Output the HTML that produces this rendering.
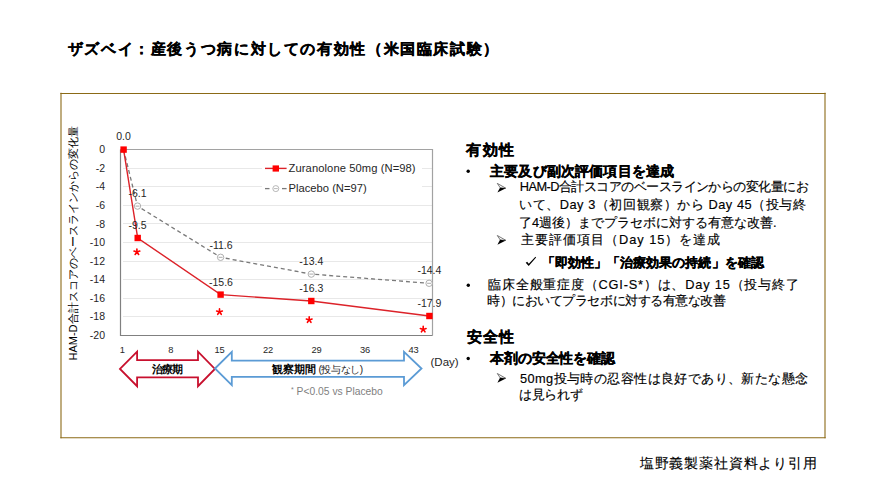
<!DOCTYPE html>
<html><head><meta charset="utf-8">
<style>
html,body{margin:0;padding:0;background:#fff;}
body{width:886px;height:498px;position:relative;overflow:hidden;font-family:"Liberation Sans",sans-serif;color:#000;}
.a{position:absolute;white-space:nowrap;line-height:1;-webkit-text-stroke:0.15px #000;}
.b{font-weight:bold;-webkit-text-stroke:0.3px #000;}
svg{position:absolute;left:0;top:0;}
</style></head>
<body>
<svg width="886" height="498" viewBox="0 0 886 498" font-family="Liberation Sans, sans-serif">
  <g stroke="#8b6a16" stroke-width="1.1" fill="none">
    <line x1="60.35" y1="93.5" x2="825.65" y2="93.5"/>
    <line x1="825" y1="92.85" x2="825" y2="438.35"/>
    <line x1="825.65" y1="437.7" x2="60.35" y2="437.7"/>
    <line x1="61" y1="438.35" x2="61" y2="92.85"/>
  </g>
  <!-- gridlines -->
  <g stroke="#e8e8e8" stroke-width="1">
    <line x1="123" y1="168.5" x2="433" y2="168.5"/>
    <line x1="123" y1="186.5" x2="433" y2="186.5"/>
    <line x1="123" y1="205.5" x2="433" y2="205.5"/>
    <line x1="123" y1="223.5" x2="433" y2="223.5"/>
    <line x1="123" y1="242.5" x2="433" y2="242.5"/>
    <line x1="123" y1="261.5" x2="433" y2="261.5"/>
    <line x1="123" y1="279.5" x2="433" y2="279.5"/>
    <line x1="123" y1="298.5" x2="433" y2="298.5"/>
    <line x1="123" y1="316.5" x2="433" y2="316.5"/>
  </g>
  <!-- legend bg -->
  <rect x="262" y="158" width="160" height="39" fill="#fff"/>
  <!-- plot border -->
  <path d="M120.5 149.5 H432.5 V335.5" fill="none" stroke="#a2a2a2" stroke-width="1.2"/>
  <path d="M120.5 149.5 V335.5 H432.5" fill="none" stroke="#808080" stroke-width="1.2"/>
  <!-- y labels -->
  <g font-size="10.5" fill="#262626" text-anchor="end">
    <text x="105" y="153.3">0</text>
    <text x="105" y="171.9">-2</text>
    <text x="105" y="190.4">-4</text>
    <text x="105" y="209.0">-6</text>
    <text x="105" y="227.6">-8</text>
    <text x="105" y="246.2">-10</text>
    <text x="105" y="264.7">-12</text>
    <text x="105" y="283.3">-14</text>
    <text x="105" y="301.9">-16</text>
    <text x="105" y="320.4">-18</text>
    <text x="105" y="339.0">-20</text>
  </g>
  <!-- x labels -->
  <g font-size="9.3" fill="#262626" text-anchor="middle">
    <text x="122.3" y="352.6">1</text>
    <text x="170.8" y="352.6">8</text>
    <text x="219.6" y="352.6">15</text>
    <text x="268.1" y="352.6">22</text>
    <text x="316.6" y="352.6">29</text>
    <text x="365.1" y="352.6">36</text>
    <text x="413.6" y="352.6">43</text>
  </g>
  <!-- y title -->
  <text transform="translate(77.2,243.5) rotate(-90)" font-size="11" letter-spacing="0" fill="#000" text-anchor="middle">HAM-D合計スコアのベースラインからの変化量</text>
  <!-- placebo -->
  <polyline points="123.6,149.6 137.5,206.1 220.6,257.3 311.3,274.1 429.1,283.3" fill="none" stroke="#7a7a7a" stroke-width="1.3" stroke-dasharray="4,3"/>
  <g fill="#fff" stroke="#a6a6a6" stroke-width="0.9">
    <circle cx="137.5" cy="206.1" r="3.2"/>
    <circle cx="220.6" cy="257.3" r="3.2"/>
    <circle cx="311.3" cy="274.1" r="3.2"/>
    <circle cx="429.1" cy="283.3" r="3.2"/>
  </g>
  <g stroke="#a0a0a0" stroke-width="0.9">
    <line x1="135.5" y1="206.1" x2="139.5" y2="206.1"/>
    <line x1="218.6" y1="257.3" x2="222.6" y2="257.3"/>
    <line x1="309.3" y1="274.1" x2="313.3" y2="274.1"/>
    <line x1="427.1" y1="283.3" x2="431.1" y2="283.3"/>
  </g>
  <!-- zuranolone -->
  <polyline points="123.6,149.6 137.7,238 220.6,294.6 311.3,301 429.4,316" fill="none" stroke="#dc2229" stroke-width="1.4"/>
  <g fill="#f00">
    <rect x="120.4" y="146.4" width="6.4" height="6.4"/>
    <rect x="134.5" y="234.8" width="6.4" height="6.4"/>
    <rect x="217.4" y="291.4" width="6.4" height="6.4"/>
    <rect x="308.1" y="297.8" width="6.4" height="6.4"/>
    <rect x="426.2" y="312.8" width="6.4" height="6.4"/>
  </g>
  <!-- data labels -->
  <g font-size="10.5" fill="#262626" text-anchor="middle">
    <text x="123.6" y="140">0.0</text>
    <text x="137.5" y="196.6">-6.1</text>
    <text x="137.5" y="228.7">-9.5</text>
    <text x="221" y="248.5">-11.6</text>
    <text x="221" y="285.7">-15.6</text>
    <text x="311.3" y="265.1">-13.4</text>
    <text x="311.3" y="291.5">-16.3</text>
    <text x="429.4" y="274">-14.4</text>
    <text x="429.4" y="307">-17.9</text>
  </g>
  <!-- asterisks -->
  <path d="M136.90 252.00L136.90 249.00M136.90 252.00L139.75 251.07M136.90 252.00L138.66 254.43M136.90 252.00L135.14 254.43M136.90 252.00L134.05 251.07M219.50 311.90L219.50 308.90M219.50 311.90L222.35 310.97M219.50 311.90L221.26 314.33M219.50 311.90L217.74 314.33M219.50 311.90L216.65 310.97M309.20 319.90L309.20 316.90M309.20 319.90L312.05 318.97M309.20 319.90L310.96 322.33M309.20 319.90L307.44 322.33M309.20 319.90L306.35 318.97M423.20 329.40L423.20 326.40M423.20 329.40L426.05 328.47M423.20 329.40L424.96 331.83M423.20 329.40L421.44 331.83M423.20 329.40L420.35 328.47" stroke="#f00" stroke-width="1.6" stroke-linecap="round" fill="none"/>
  <!-- legend -->
  <line x1="265" y1="168.4" x2="286.6" y2="168.4" stroke="#dc2229" stroke-width="1.4"/>
  <rect x="272.6" y="165.4" width="6.4" height="6.2" fill="#f00"/>
  <text x="288.6" y="172" font-size="11.2" letter-spacing="0.08" fill="#262626">Zuranolone 50mg (N=98)</text>
  <line x1="265" y1="188.6" x2="269.5" y2="188.6" stroke="#7a7a7a" stroke-width="1.3"/>
  <line x1="282" y1="188.6" x2="286.6" y2="188.6" stroke="#7a7a7a" stroke-width="1.3"/>
  <circle cx="275.8" cy="188.6" r="3" fill="#fff" stroke="#b0b0b0" stroke-width="0.9"/>
  <line x1="273.8" y1="188.6" x2="277.8" y2="188.6" stroke="#b0b0b0" stroke-width="0.9"/>
  <text x="288.6" y="192.2" font-size="11.2" fill="#262626">Placebo (N=97)</text>
  <!-- arrows -->
  <polygon points="120,368.9 137.1,351.7 137.1,360.1 198,360.1 198,351.7 214.9,368.9 198,386.2 198,377.4 137.1,377.4 137.1,386.2" fill="#fff" stroke="#c8102e" stroke-width="1.8"/>
  <polygon points="215,368.5 231.8,351.9 231.8,360.7 404,360.7 404,351.9 421.5,368.5 404,385.1 404,376.8 231.8,376.8 231.8,385.1" fill="#fff" stroke="#5b9bd5" stroke-width="1.8"/>
  <text x="167.2" y="372.6" font-size="10.5" font-weight="bold" text-anchor="middle" letter-spacing="-0.55">治療期</text>
  <text x="272" y="372.7" font-size="10.5" font-weight="bold" letter-spacing="-0.1">観察期間</text>
  <text x="318.5" y="372.7" font-size="10.2" fill="#262626" letter-spacing="-0.45">(投与なし)</text>
  <text x="291" y="394.7" font-size="10.3" fill="#7f7f7f"><tspan font-size="7" dy="-3">*</tspan><tspan dy="3"> P&lt;0.05 vs Placebo</tspan></text>
  <text x="430.5" y="365.6" font-size="11.5" letter-spacing="0" fill="#262626">(Day)</text>
  <!-- bullets -->
  <g fill="#000">
    <circle cx="468.2" cy="171.3" r="1.7"/>
    <circle cx="468.3" cy="285.2" r="1.7"/>
    <circle cx="468.2" cy="358.5" r="1.7"/>
  </g>
    <path d="M497.3 183.4 L505.8 188.2 L500.3 187.9 Z" fill="none" stroke="#555" stroke-width="0.8" stroke-linejoin="round"/>
    <path d="M500.0 187.7 L505.9 188.3 L497.4 192.6 Z" fill="#000"/>
    <path d="M497.3 235.5 L505.8 240.3 L500.3 240.0 Z" fill="none" stroke="#555" stroke-width="0.8" stroke-linejoin="round"/>
    <path d="M500.0 239.8 L505.9 240.4 L497.4 244.7 Z" fill="#000"/>
    <path d="M497.3 373.5 L505.8 378.3 L500.3 378.0 Z" fill="none" stroke="#555" stroke-width="0.8" stroke-linejoin="round"/>
    <path d="M500.0 377.8 L505.9 378.4 L497.4 382.7 Z" fill="#000"/>
  <path d="M525.7 262.8 L527.2 261.7 L528.8 263.7 L535.4 256.8 L536.1 257.5 L528.7 266.1 Z" fill="#000"/>
</svg>

<div class="a b" style="left:67.80px;top:42.20px;font-size:14.8px;letter-spacing:1.616px;">ザズベイ：産後うつ病に対しての有効性（米国臨床試験）</div>
<div class="a b" style="left:466.20px;top:142.70px;font-size:14.8px;letter-spacing:1.450px;">有効性</div>
<div class="a b" style="left:490.00px;top:163.70px;font-size:14px;letter-spacing:0.167px;">主要及び副次評価項目を達成</div>
<div class="a" style="left:519.80px;top:181.40px;font-size:12.8px;letter-spacing:-0.546px;">HAM-D合計スコアのベースラインからの変化量にお</div>
<div class="a" style="left:519.00px;top:198.90px;font-size:12.8px;letter-spacing:0.553px;">いて、Day 3（初回観察）から Day 45（投与終</div>
<div class="a" style="left:519.00px;top:216.80px;font-size:12.8px;">了4週後）までプラセボに対する有意な改善.</div>
<div class="a" style="left:521.20px;top:233.80px;font-size:12.8px;letter-spacing:0.976px;">主要評価項目（Day 15）を達成</div>
<div class="a b" style="left:542.00px;top:255.55px;font-size:13.3px;letter-spacing:0.039px;">「即効性」「治療効果の持続」を確認</div>
<div class="a" style="left:488.20px;top:278.60px;font-size:12.8px;letter-spacing:0.799px;">臨床全般重症度（CGI-S*）は、Day 15（投与終了</div>
<div class="a" style="left:487.20px;top:295.30px;font-size:12.8px;letter-spacing:-0.466px;">時）においてプラセボに対する有意な改善</div>
<div class="a b" style="left:466.60px;top:330.10px;font-size:14.8px;letter-spacing:1.250px;">安全性</div>
<div class="a b" style="left:490.00px;top:351.20px;font-size:14px;letter-spacing:-0.125px;">本剤の安全性を確認</div>
<div class="a" style="left:520.00px;top:372.60px;font-size:12.8px;letter-spacing:0.409px;">50mg投与時の忍容性は良好であり、新たな懸念</div>
<div class="a" style="left:519.00px;top:389.00px;font-size:12.8px;letter-spacing:-0.375px;">は見られず</div>
<div class="a" style="left:639.80px;top:456.45px;font-size:14.3px;letter-spacing:0.818px;">塩野義製薬社資料より引用</div>
</body></html>
